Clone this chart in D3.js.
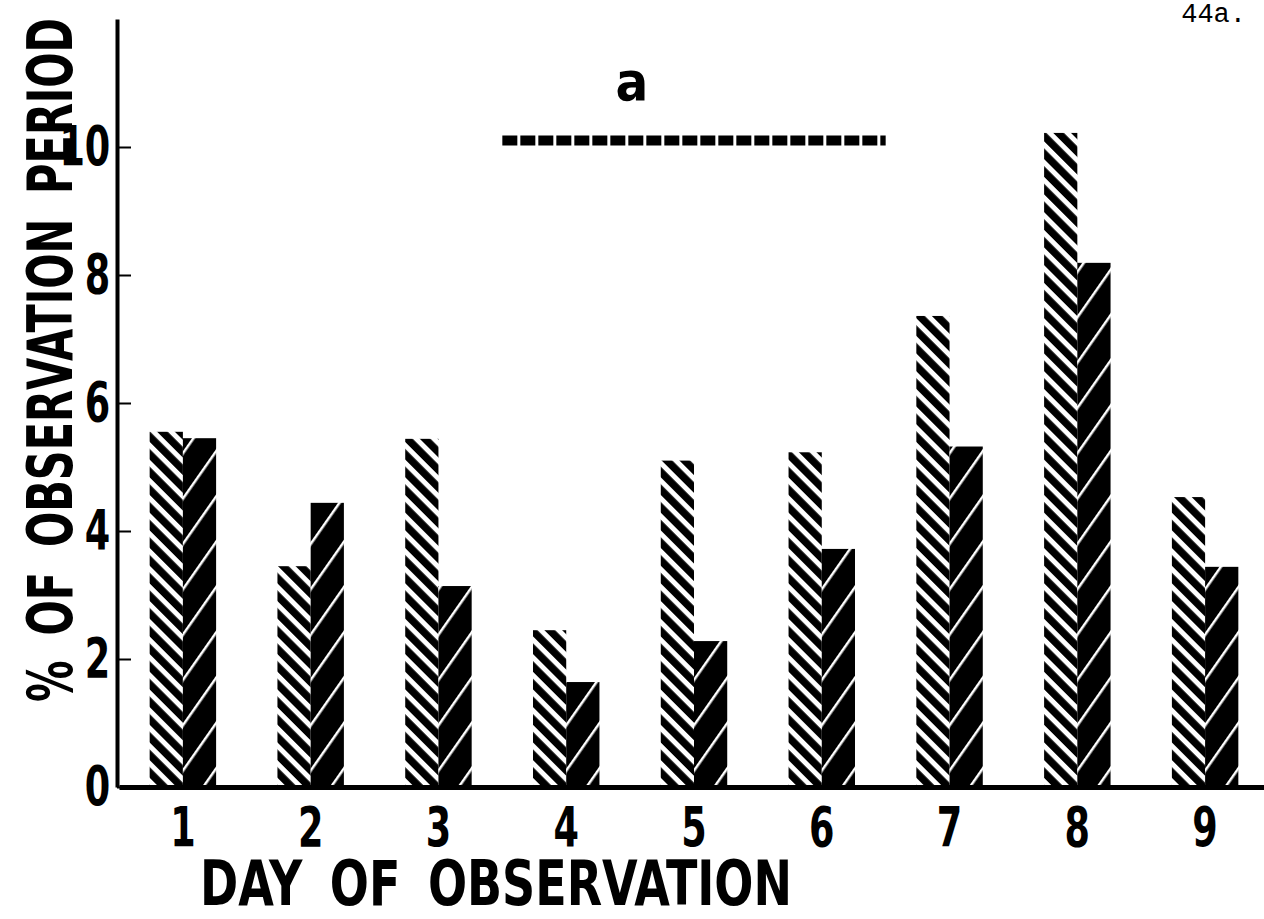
<!DOCTYPE html>
<html>

<head>
    <meta charset="utf-8">
    <style>
        body {
            margin: 0;
            background: #fff;
        }

        svg {
            display: block;
        }

        .lbl {
            font-family: 'DejaVu Sans Condensed', 'DejaVu Sans', sans-serif;
            font-weight: bold;
            fill: #000;
        }

        .tick text {
            font-family: 'DejaVu Sans Condensed', 'DejaVu Sans', sans-serif;
            font-weight: bold;
            font-size: 55px;
            fill: #000;
        }

        .page-no {
            font-family: 'Liberation Mono', 'DejaVu Sans Mono', monospace;
            font-size: 27px;
            fill: #000;
        }
    </style>
</head>

<body>
    <svg width="1264" height="919"></svg>

    <script src="https://d3js.org/d3.v7.min.js"></script>
    <script>
        // values
        let days = ["1", "2", "3", "4", "5", "6", "7", "8", "9"]
        let hatched = [5.55, 3.45, 5.44, 2.45, 5.10, 5.23, 7.36, 10.22, 4.53]
        let solid = [5.45, 4.44, 3.14, 1.64, 2.28, 3.72, 5.32, 8.19, 3.44]
        let yTicks = [0, 2, 4, 6, 8, 10]
        // dashed period marker: from between day 3/4 to between day 6/7, at ~10.1
        let periodFrom = 3.5
        let periodTo = 6.5
        let periodLevel = 10.1

        let width = 1264
        let height = 919
        let margin = { top: 19, right: -5, bottom: 132, left: 119 }

        let svg = d3.select("svg")

        // patterns
        let defs = svg.append("defs")

        let hatch = defs.append("pattern")
            .attr("id", "hatch")
            .attr("patternUnits", "userSpaceOnUse")
            .attr("width", 12.5)
            .attr("height", 12.5)
            .attr("patternTransform", "rotate(-45)")
        hatch.append("rect").attr("width", 12.5).attr("height", 12.5).attr("fill", "#fff")
        hatch.append("rect").attr("x", 0).attr("width", 7.5).attr("height", 12.5).attr("fill", "#000")

        let dark = defs.append("pattern")
            .attr("id", "dark")
            .attr("patternUnits", "userSpaceOnUse")
            .attr("width", 26)
            .attr("height", 26)
            .attr("patternTransform", "rotate(35)")
        dark.append("rect").attr("width", 26).attr("height", 26).attr("fill", "#000")
        dark.append("rect").attr("x", 0).attr("width", 2.5).attr("height", 26).attr("fill", "#fff")

        let x = d3.scaleBand()
            .domain(days)
            .range([margin.left, width - margin.right])
            .paddingInner(0.48)
            .paddingOuter(0.24)

        let xSub = d3.scaleBand()
            .domain(["hatched", "solid"])
            .range([0, x.bandwidth()])

        let y = d3.scaleLinear()
            .domain([0, 12])
            .range([height - margin.bottom, margin.top])

        // centre of a (possibly fractional) day, for the period marker
        let xc = d3.scaleLinear()
            .domain([1, 9])
            .range([x("1") + x.bandwidth() / 2, x("9") + x.bandwidth() / 2])

        let rows = days.map((d, i) => ({ day: d, hatched: hatched[i], solid: solid[i] }))

        // bars
        let groups = svg.append("g")
            .selectAll("g")
            .data(rows)
            .join("g")
            .attr("transform", d => `translate(${x(d.day)},0)`)

        groups.append("rect")
            .attr("x", xSub("hatched"))
            .attr("y", d => y(d.hatched))
            .attr("width", xSub.bandwidth())
            .attr("height", d => y(0) - y(d.hatched))
            .attr("fill", "url(#hatch)")

        groups.append("rect")
            .attr("x", xSub("solid"))
            .attr("y", d => y(d.solid))
            .attr("width", xSub.bandwidth())
            .attr("height", d => y(0) - y(d.solid))
            .attr("fill", "url(#dark)")

        // x axis
        let xAxis = svg.append("g")
            .attr("transform", `translate(0,${y(0)})`)
            .call(d3.axisBottom(x).tickSize(0).tickPadding(20))
        xAxis.select(".domain")
            .attr("stroke", "#000")
            .attr("stroke-width", 5)
        xAxis.selectAll(".tick text")
            .attr("dy", "0.71em")
            .attr("transform", "scale(0.74,1)")

        // y axis, ticks pointing inward
        let yAxis = svg.append("g")
            .attr("transform", `translate(${margin.left - 2},0)`)
            .call(d3.axisLeft(y).tickValues(yTicks).tickSize(-14).tickSizeOuter(0).tickPadding(9))
        yAxis.select(".domain")
            .attr("stroke", "#000")
            .attr("stroke-width", 4)
        yAxis.selectAll(".tick line")
            .attr("stroke", "#000")
            .attr("stroke-width", 2)
        yAxis.selectAll(".tick text")
            .attr("transform", "scale(0.74,1)")

        // dashed period marker
        svg.append("line")
            .attr("x1", xc(periodFrom))
            .attr("x2", xc(periodTo))
            .attr("y1", y(periodLevel))
            .attr("y2", y(periodLevel))
            .attr("stroke", "#000")
            .attr("stroke-width", 10)
            .attr("stroke-dasharray", "15 3")

        // labels
        svg.append("text")
            .attr("class", "lbl")
            .attr("x", 632)
            .attr("y", 100)
            .attr("text-anchor", "middle")
            .style("font-size", "54px")
            .text("a")

        svg.append("text")
            .attr("class", "lbl")
            .attr("x", 496)
            .attr("y", 905)
            .attr("text-anchor", "middle")
            .attr("textLength", 592)
            .attr("lengthAdjust", "spacingAndGlyphs")
            .style("font-size", "62px")
            .style("word-spacing", "14px")
            .text("DAY OF OBSERVATION")

        svg.append("text")
            .attr("class", "lbl")
            .attr("transform", "translate(72,360) rotate(-90)")
            .attr("text-anchor", "middle")
            .attr("textLength", 684)
            .attr("lengthAdjust", "spacingAndGlyphs")
            .style("font-size", "62px")
            .style("word-spacing", "14px")
            .text("% OF OBSERVATION PERIOD")

        svg.append("text")
            .attr("class", "page-no")
            .attr("x", 1246)
            .attr("y", 22)
            .attr("text-anchor", "end")
            .text("44a.")
    </script>
</body>

</html>
